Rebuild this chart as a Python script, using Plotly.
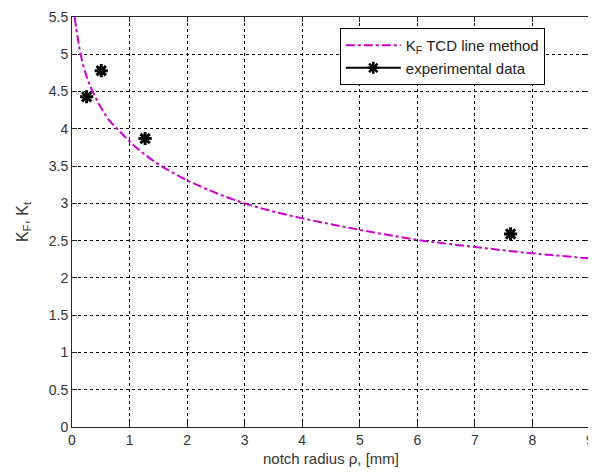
import plotly.graph_objects as go

# TCD line method curve
rho_curve = [0.045, 0.1, 0.15, 0.25, 0.36, 0.5, 0.65, 0.8, 1.0, 1.25, 1.55, 2.0, 2.5,
             3.0, 3.5, 4.0, 4.5, 5.0, 5.5, 6.0, 6.5, 7.0, 7.5, 8.0, 8.5, 9.0]
kf_curve = [5.5, 5.22, 5.0, 4.71, 4.5, 4.29, 4.11, 3.99, 3.83, 3.665, 3.5, 3.31, 3.14,
            3.0, 2.89, 2.8, 2.72, 2.645, 2.575, 2.51, 2.46, 2.415, 2.37, 2.33, 2.295, 2.26]

# experimental data
rho_exp = [0.254, 0.508, 1.27, 7.62]
k_exp = [4.43, 4.78, 3.87, 2.59]

x_ticks = [0, 1, 2, 3, 4, 5, 6, 7, 8, 9]
y_ticks = [0, 0.5, 1, 1.5, 2, 2.5, 3, 3.5, 4, 4.5, 5, 5.5]

FONT = "Liberation Sans, Arial, sans-serif"

fig = go.Figure()
fig.add_trace(go.Scatter(
    x=rho_curve, y=kf_curve, mode="lines", line_shape="spline",
    name="K<sub>F</sub> TCD line method",
    line=dict(color="rgb(204,0,204)", width=2, dash="dashdot"),
))
fig.add_trace(go.Scatter(
    x=rho_exp, y=k_exp, mode="markers", showlegend=False,
    marker=dict(symbol="asterisk-open", size=11, color="black",
                line=dict(color="black", width=3)),
))
fig.add_trace(go.Scatter(
    x=[None], y=[None], mode="lines+markers", name="experimental data",
    line=dict(color="black", width=2),
    marker=dict(symbol="asterisk-open", size=10, color="black",
                line=dict(color="black", width=2.5)),
))

axis_common = dict(
    showline=True, linecolor="#262626", linewidth=1, mirror="ticks",
    ticks="inside", ticklen=5, tickcolor="#262626",
    showgrid=True, gridcolor="black", gridwidth=1, griddash="3px,3px",
    zeroline=False, tickfont=dict(family=FONT, size=14, color="#333"),
    ticklabeloverflow="allow",
)

fig.update_xaxes(range=[0, 9], tickvals=x_ticks, ticktext=[str(v) for v in x_ticks],
                 title=dict(text="notch radius ρ, [mm]", font=dict(family=FONT, size=15, color="#333"),
                            standoff=6),
                 **axis_common)
fig.update_yaxes(range=[0, 5.5], tickvals=y_ticks, ticktext=[f"{v:g}" for v in y_ticks],
                 title=dict(text="K<sub>F</sub>, K<sub>t</sub>", font=dict(family=FONT, size=16, color="#333"),
                            standoff=16),
                 **axis_common)

# page body has an 8px margin: figure sized/offset so plot area matches reference
fig.update_layout(
    width=588, height=466,
    margin=dict(l=64, r=6, t=9, b=47, autoexpand=False),
    paper_bgcolor="white", plot_bgcolor="white",
    font=dict(family=FONT, size=14, color="#222"),
    legend=dict(x=0.517, y=0.973, xanchor="left", yanchor="top",
                bgcolor="white", bordercolor="black", borderwidth=1,
                font=dict(family=FONT, size=15, color="#222"),
                itemwidth=55, tracegroupgap=0),
)

fig.write_html("out.html")
